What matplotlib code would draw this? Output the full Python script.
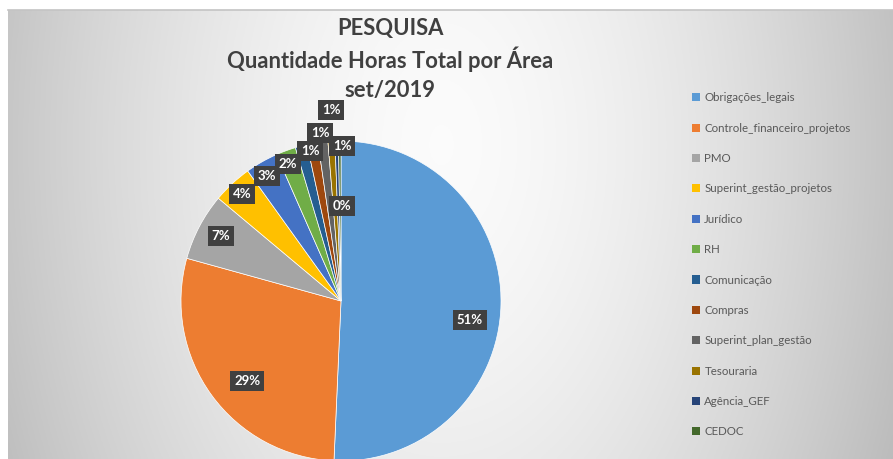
import numpy as np
import matplotlib.pyplot as plt
from matplotlib.patches import Patch

# Dados (horas por área, em % do total)
areas = ['Obrigações_legais', 'Controle_financeiro_projetos', 'PMO', 'Superint_gestão_projetos',
         'Jurídico', 'RH', 'Comunicação', 'Compras', 'Superint_plan_gestão', 'Tesouraria',
         'Agência_GEF', 'CEDOC']
valores = [50.7, 28.6, 6.8, 4.0, 3.3, 2.0, 1.2, 1.1, 1.0, 0.7, 0.35, 0.25]
cores = ['#5B9BD5', '#ED7D31', '#A5A5A5', '#FFC000', '#4472C4', '#70AD47',
         '#255E91', '#9E480E', '#636363', '#997300', '#264478', '#43682B']
titulo = ['PESQUISA', 'Quantidade Horas Total por Área', 'set/2019']
# posição dos rótulos: distância (fração do raio) e desvio angular (graus)
dist_rotulo = [0.815, 0.77, 0.853, 0.91, 0.91, 0.918, 0.957, 1.058, 1.195, 0.969, 0.594, 0.594]
desvio_rotulo = [-7.1, 4.4, -0.7, 0.0, 0.9, 0.9, -2.7, -3.2, -3.5, -3.8, -2.1, -1.0]

W, H = 893, 459
fig = plt.figure(figsize=(W / 100, H / 100), dpi=100)
fig.patch.set_facecolor('white')

# Fundo com gradiente
bg = fig.add_axes([8 / W, 0, 1 - 8 / W, (H - 10) / H])
yy, xx = np.mgrid[0:1:200j, 0:1:400j]
d = np.sqrt(((xx - 0.49) / 0.5) ** 2 + ((yy - 0.3) / 1.6) ** 2)
g = 0.985 - 0.21 * np.clip(d, 0, 1.2) ** 1.6
bg.imshow(np.dstack([g, g, g]), aspect='auto', extent=[0, 1, 0, 1], origin='upper')
bg.set_xlim(0, 1)
bg.set_ylim(0, 1)
bg.axis('off')
fig.add_artist(plt.Line2D([8 / W, 1], [(H - 10) / H, (H - 10) / H], color='#c4c4c4', lw=1.2,
                          transform=fig.transFigure))

# Pizza
cx, cy, r = 341, 301, 160
ax = fig.add_axes([(cx - r) / W, (H - cy - r) / H, 2 * r / W, 2 * r / H])
wedges, _ = ax.pie(valores, colors=cores, startangle=90, counterclock=False, radius=1,
                   wedgeprops=dict(edgecolor='white', linewidth=0.5))
ax.set_xlim(-1, 1)
ax.set_ylim(-1, 1)
ax.set_aspect('equal')
ax.axis('off')

total = sum(valores)
for w, v, dr, da in zip(wedges, valores, dist_rotulo, desvio_rotulo):
    ang = np.deg2rad((w.theta1 + w.theta2) / 2 + da)
    ax.text(dr * np.cos(ang), dr * np.sin(ang), f'{v / total * 100:.0f}%',
            ha='center', va='center', color='white', fontsize=9.5, fontweight='bold',
            family='Lato', clip_on=False,
            bbox=dict(boxstyle='square,pad=0.3', facecolor='#404040', edgecolor='none'))

# Título (uma linha por vez, espaçamento uniforme)
for i, linha in enumerate(titulo):
    fig.text(390 / W, 1 - (27 + 30.5 * i) / H, linha, ha='center', va='center_baseline',
             fontsize=15.8, fontweight='bold', color='#404040', family='Lato')

# Legenda
handles = [Patch(facecolor=c, edgecolor='none') for c in cores]
leg = fig.legend(handles, areas, loc='upper left', bbox_to_anchor=(682 / W, 1 - 82 / H),
                 frameon=False, labelspacing=1.69, handlelength=0.7,
                 handleheight=0.7, handletextpad=0.35, prop={'family': 'Lato', 'size': 8.25})
for t in leg.get_texts():
    t.set_color('#595959')

fig.savefig('out.png', dpi=100)
